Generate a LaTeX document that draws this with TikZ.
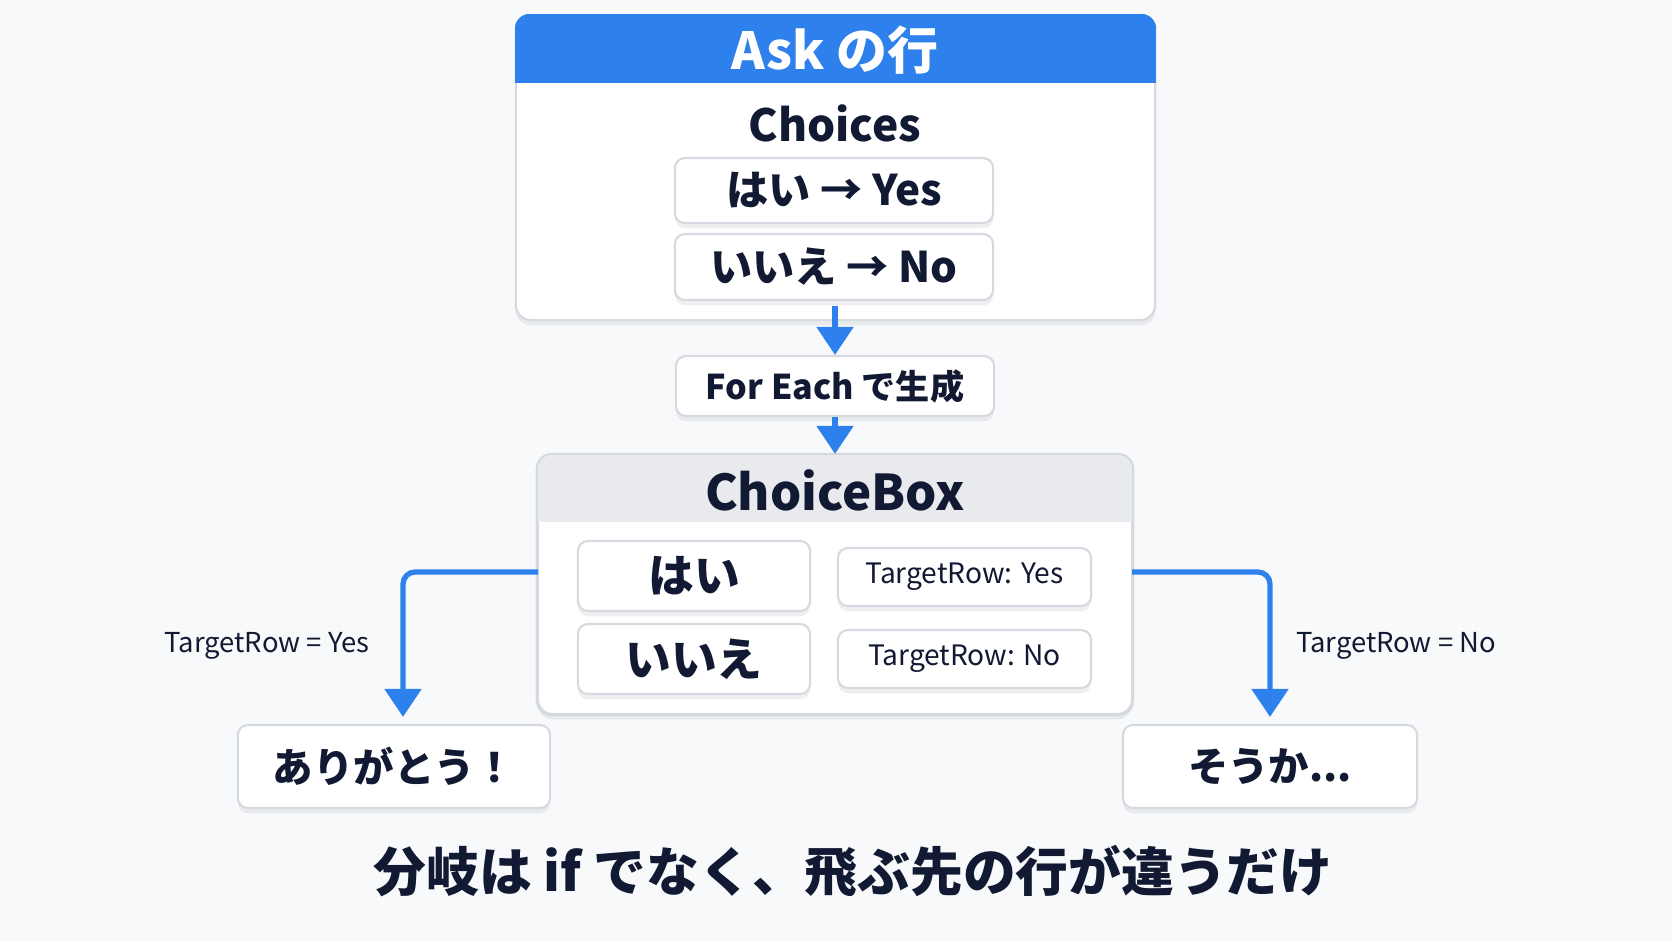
\documentclass[tikz,border=0pt]{standalone}
\usepackage{fontspec}
\setmainfont{Noto Sans CJK JP}
\usetikzlibrary{arrows.meta,shadows,calc}
\definecolor{askblue}{RGB}{46,128,236}
\definecolor{ink}{RGB}{18,25,50}
\definecolor{rim}{RGB}{214,218,224}
\definecolor{headgray}{RGB}{232,234,237}
\definecolor{paper}{RGB}{248,249,251}

\begin{document}
\begin{tikzpicture}[x=0.01cm,y=-0.01cm,
		soft/.style={drop shadow={shadow xshift=0pt,shadow yshift=-1.5pt,opacity=0.12}},
		panel/.style={draw=rim,fill=white,rounded corners=0.15cm,line width=0.6pt,soft},
		pill/.style={draw=rim,fill=white,rounded corners=0.1cm,line width=0.6pt,soft,text=ink,font=\bfseries\fontsize{12}{14}\selectfont},
		rowtag/.style={pill,font=\fontsize{8}{10}\selectfont},
		lbl/.style={text=ink,font=\fontsize{7.8}{10}\selectfont},
		flow/.style={draw=askblue,line width=1.5pt,-{Triangle[width=0.36cm,length=0.28cm]}}]
		\fill[paper] (0,0) rectangle (1672,941);
		\useasboundingbox (0,0) rectangle (1672,941);
		% Ask panel
		\node[panel,minimum width=6.39cm,minimum height=3.05cm] (ask) at (835.5,167.5) {};
		\begin{scope}
			\clip[rounded corners=0.15cm] (ask.south west) rectangle (ask.north east);
			\fill[askblue] (ask.north west) rectangle (1156,83);
		\end{scope}
		\node[text=white,font=\bfseries\fontsize{14.5}{18}\selectfont] (asktitle) at (835,50) {Ask の行};
		\node[text=ink,font=\bfseries\fontsize{12.6}{16}\selectfont] (choices) at (835,123) {Choices};
		\node[pill,minimum width=3.18cm,minimum height=0.65cm] (yes) at (834,190.5) {はい → Yes};
		\node[pill,minimum width=3.18cm,minimum height=0.66cm] (no) at (834,267) {いいえ → No};
		\coordinate (askfoot) at (835,306);
		% For Each
		\node[pill,minimum width=3.18cm,minimum height=0.6cm,font=\bfseries\fontsize{9.7}{12}\selectfont] (each) at (835,386) {For Each で生成};
		% ChoiceBox panel
		\node[panel,minimum width=5.94cm,minimum height=2.59cm] (choice) at (835,584.5) {};
		\begin{scope}
			\clip[rounded corners=0.15cm] (choice.south west) rectangle (choice.north east);
			\fill[headgray] (choice.north west) rectangle (1133,522);
		\end{scope}
		\draw[rim,line width=0.6pt,rounded corners=0.15cm] (choice.south west) rectangle (choice.north east);
		\node[text=ink,font=\bfseries\fontsize{14}{18}\selectfont] (cbtitle) at (835,490) {ChoiceBox};
		\node[pill,minimum width=2.32cm,minimum height=0.7cm,font=\bfseries\fontsize{13}{16}\selectfont] (hai) at (694,576) {はい};
		\node[pill,minimum width=2.32cm,minimum height=0.7cm,font=\bfseries\fontsize{13}{16}\selectfont] (iie) at (694,659) {いいえ};
		\node[rowtag,minimum width=2.53cm,minimum height=0.58cm] (tyes) at (964.5,577) {TargetRow: Yes};
		\node[rowtag,minimum width=2.53cm,minimum height=0.58cm] (tno) at (964.5,659) {TargetRow: No};
		% results
		\node[pill,minimum width=3.12cm,minimum height=0.83cm,font=\bfseries\fontsize{11.5}{14}\selectfont] (thanks) at (394,766.5) {ありがとう！};
		\node[pill,minimum width=2.94cm,minimum height=0.83cm,font=\bfseries\fontsize{11.5}{14}\selectfont] (sorry) at (1270,766.5) {そうか...};
		\node[lbl] (lyes) at (267,646) {TargetRow = Yes};
		\node[lbl] (lno) at (1396,646) {TargetRow = No};
		\coordinate (lout) at (538,572);
		\coordinate (rout) at (1132,572);
		\draw[flow] (askfoot) -- (each.north);
		\draw[flow] (each.south) -- (choice.north);
		\draw[flow,rounded corners=0.12cm,shorten >=2pt] (lout) -| ($(thanks.north)+(9,0)$);
		\draw[flow,rounded corners=0.12cm,shorten >=2pt] (rout) -| (sorry.north);
		\node[text=ink,font=\bfseries\fontsize{15}{18}\selectfont] (moral) at (853,871) {分岐は if でなく、飛ぶ先の行が違うだけ};
	\end{tikzpicture}
\end{document}
